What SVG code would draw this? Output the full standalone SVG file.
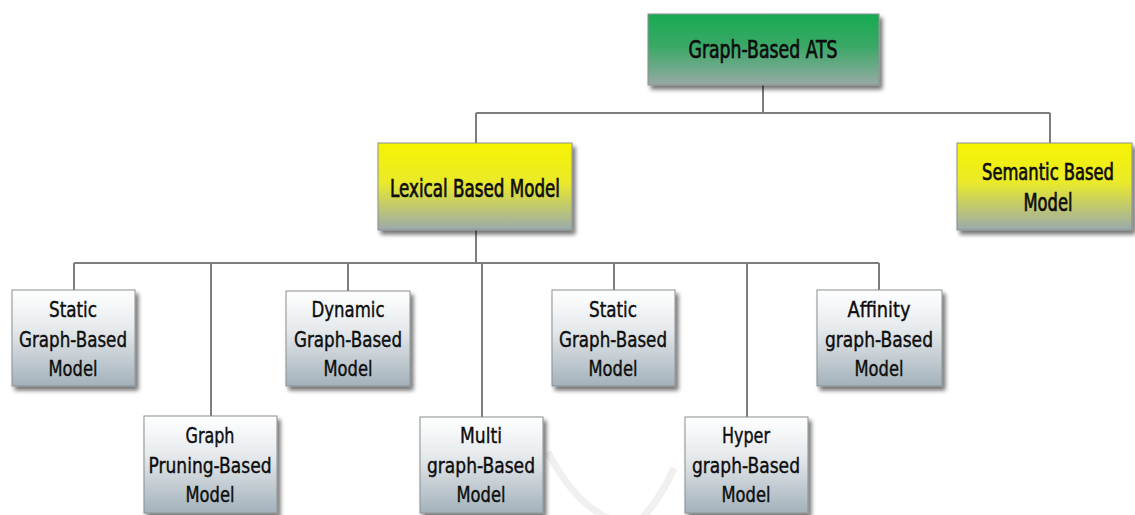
<svg xmlns="http://www.w3.org/2000/svg" width="1135" height="515" viewBox="0 0 1135 515">
<defs>
<linearGradient id="gGreen" x1="0" y1="0" x2="0" y2="1">
<stop offset="0" stop-color="#17ab52"/>
<stop offset="0.45" stop-color="#3aa866"/>
<stop offset="1" stop-color="#96aaa4"/>
</linearGradient>
<linearGradient id="gYellow" x1="0" y1="0" x2="0" y2="1">
<stop offset="0" stop-color="#f6f400"/>
<stop offset="0.45" stop-color="#eaea2a"/>
<stop offset="1" stop-color="#9aa9ae"/>
</linearGradient>
<linearGradient id="gGray" x1="0" y1="0" x2="0" y2="1">
<stop offset="0" stop-color="#ffffff"/>
<stop offset="0.4" stop-color="#e6eaed"/>
<stop offset="1" stop-color="#a3b1ba"/>
</linearGradient>
<filter id="sh" x="-10%" y="-10%" width="125%" height="130%">
<feGaussianBlur in="SourceAlpha" stdDeviation="2"/>
<feOffset dx="3" dy="4" result="b"/>
<feComponentTransfer><feFuncA type="linear" slope="0.55"/></feComponentTransfer>
<feMerge><feMergeNode/><feMergeNode in="SourceGraphic"/></feMerge>
</filter>
</defs>
<style>
.box{stroke:#8a8f92;stroke-width:1;filter:url(#sh)}
.t{font-family:"DejaVu Sans Condensed","DejaVu Sans",sans-serif;font-stretch:condensed;font-size:22px;fill:#0d0d0d;stroke:#0d0d0d;stroke-width:0.4;text-anchor:middle}
.h{font-size:24px;stroke-width:0.7}
.c{stroke:#7d7d7d;stroke-width:2;fill:none}
</style>
<rect width="1135" height="515" fill="#ffffff"/>
<path d="M548,452 Q575,505 612,520 M674,468 Q660,500 640,520" stroke="#f0f0f0" stroke-width="7" fill="none"/>
<g id="connectors">
<path class="c" d="M763,85 V113 M476,113 H1050 M476,113 V143 M1050,113 V143"/>
<path class="c" d="M476,230 V263 M74,263 H879 M74,263 V290 M211,263 V416 M348,263 V291 M482,263 V417 M614,263 V290 M747,263 V417 M879,263 V290"/>
</g>
<g id="n-ats">
<rect class="box" x="648" y="14" width="231" height="71" fill="url(#gGreen)"/>
<text class="t h" x="763" y="58" style="font-size:25px" textLength="149" lengthAdjust="spacingAndGlyphs">Graph-Based ATS</text>
</g>
<g id="n-lexical">
<rect class="box" x="378" y="143" width="194" height="87" fill="url(#gYellow)"/>
<text class="t h" x="475" y="197" textLength="170" lengthAdjust="spacingAndGlyphs">Lexical Based Model</text>
</g>
<g id="n-semantic">
<rect class="box" x="957" y="143" width="175" height="87" fill="url(#gYellow)"/>
<text class="t h" x="1048" y="180" style="font-size:23px" textLength="132" lengthAdjust="spacingAndGlyphs">Semantic Based</text>
<text class="t h" x="1048" y="211" textLength="49" lengthAdjust="spacingAndGlyphs">Model</text>
</g>
<g id="n-static1">
<rect class="box" x="12" y="290" width="123" height="96" fill="url(#gGray)"/>
<text class="t" x="73" y="317" textLength="48" lengthAdjust="spacingAndGlyphs">Static</text>
<text class="t" x="73" y="347" textLength="108" lengthAdjust="spacingAndGlyphs">Graph-Based</text>
<text class="t" x="73" y="376" textLength="49" lengthAdjust="spacingAndGlyphs">Model</text>
</g>
<g id="n-pruning">
<rect class="box" x="144" y="416" width="133" height="97" fill="url(#gGray)"/>
<text class="t" x="210" y="443" textLength="49" lengthAdjust="spacingAndGlyphs">Graph</text>
<text class="t" x="210" y="473" textLength="123" lengthAdjust="spacingAndGlyphs">Pruning-Based</text>
<text class="t" x="210" y="502" textLength="49" lengthAdjust="spacingAndGlyphs">Model</text>
</g>
<g id="n-dynamic">
<rect class="box" x="286" y="291" width="124" height="95" fill="url(#gGray)"/>
<text class="t" x="348" y="317" textLength="73" lengthAdjust="spacingAndGlyphs">Dynamic</text>
<text class="t" x="348" y="347" textLength="108" lengthAdjust="spacingAndGlyphs">Graph-Based</text>
<text class="t" x="348" y="376" textLength="49" lengthAdjust="spacingAndGlyphs">Model</text>
</g>
<g id="n-multi">
<rect class="box" x="420" y="417" width="123" height="96" fill="url(#gGray)"/>
<text class="t" x="481" y="443" textLength="42" lengthAdjust="spacingAndGlyphs">Multi</text>
<text class="t" x="481" y="473" textLength="108" lengthAdjust="spacingAndGlyphs">graph-Based</text>
<text class="t" x="481" y="502" textLength="49" lengthAdjust="spacingAndGlyphs">Model</text>
</g>
<g id="n-static2">
<rect class="box" x="552" y="290" width="123" height="96" fill="url(#gGray)"/>
<text class="t" x="613" y="317" textLength="48" lengthAdjust="spacingAndGlyphs">Static</text>
<text class="t" x="613" y="347" textLength="108" lengthAdjust="spacingAndGlyphs">Graph-Based</text>
<text class="t" x="613" y="376" textLength="49" lengthAdjust="spacingAndGlyphs">Model</text>
</g>
<g id="n-hyper">
<rect class="box" x="685" y="417" width="123" height="96" fill="url(#gGray)"/>
<text class="t" x="746" y="443" textLength="48" lengthAdjust="spacingAndGlyphs">Hyper</text>
<text class="t" x="746" y="473" textLength="108" lengthAdjust="spacingAndGlyphs">graph-Based</text>
<text class="t" x="746" y="502" textLength="49" lengthAdjust="spacingAndGlyphs">Model</text>
</g>
<g id="n-affinity">
<rect class="box" x="817" y="290" width="125" height="96" fill="url(#gGray)"/>
<text class="t" x="879" y="317" textLength="63" lengthAdjust="spacingAndGlyphs">Affinity</text>
<text class="t" x="879" y="347" textLength="108" lengthAdjust="spacingAndGlyphs">graph-Based</text>
<text class="t" x="879" y="376" textLength="49" lengthAdjust="spacingAndGlyphs">Model</text>
</g>
</svg>
